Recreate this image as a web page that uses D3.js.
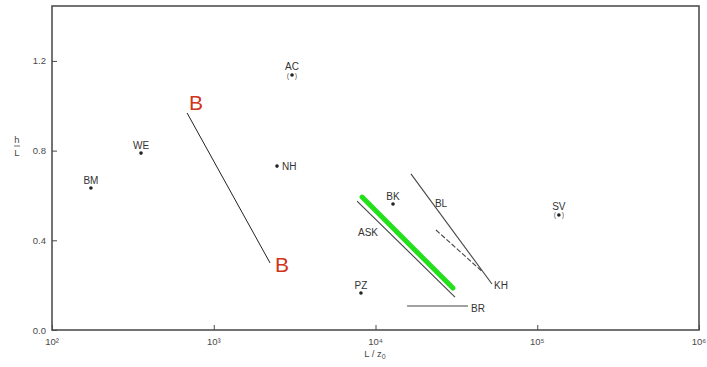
<!DOCTYPE html>
<html>
<head>
<meta charset="utf-8">
<script src="https://cdn.jsdelivr.net/npm/d3@7"></script>
<style>
  html, body { margin: 0; padding: 0; background: #fff; }
  svg { display: block; }
  text { font-family: "Liberation Sans", Arial, sans-serif; }
</style>
</head>
<body>
<svg id="chart" width="707" height="367"></svg>
<script>
// ---- data ----
const xTickValues = [1e2, 1e3, 1e4, 1e5, 1e6];
const xTickLabels = ["10²", "10³", "10⁴", "10⁵", "10⁶"];
const yTickValues = [0.0, 0.4, 0.8, 1.2];
const yTickLabels = ["0.0", "0.4", "0.8", "1.2"];

const pointNames  = ["BM", "WE", "AC", "NH", "BK", "PZ", "SV"];
const pointX      = [174, 355, 3048, 2460, 12830, 8130, 136000];
const pointY      = [0.633, 0.789, 1.137, 0.731, 0.562, 0.165, 0.513];
const pointParens = [false, false, true, false, false, false, true];

const lineNames = ["B", "ASK", "BL", "KH", "BR"];
const lineX1 = [684, 7690, 16560, 23650, 15670];
const lineY1 = [0.968, 0.575, 0.696, 0.446, 0.107];
const lineX2 = [2229, 31000, 52500, 45500, 37300];
const lineY2 = [0.299, 0.147, 0.205, 0.262, 0.107];

const highlightX = [8260, 30100];
const highlightY = [0.593, 0.187];

const xLabel = "L / z";
const xLabelSub = "0";

(function () {
// ---- scales ----
const svg = d3.select("#chart");
const mLeft = 52, mRight = 699, mTop = 6, mBottom = 330;
const x = d3.scaleLog().domain([1e2, 1e6]).range([mLeft, mRight]);
const y = d3.scaleLinear().domain([0, 1.445]).range([mBottom, mTop]);

const ink = "#333";
const axisInk = "#4a4a4a";

// frame
svg.append("rect")
  .attr("x", mLeft).attr("y", mTop)
  .attr("width", mRight - mLeft).attr("height", mBottom - mTop)
  .attr("fill", "none").attr("stroke", "#505050").attr("stroke-width", 1.6);

// x axis (ticks inward)
const xAxis = d3.axisTop(x).tickValues(xTickValues).tickSize(5).tickFormat(() => "");
const gx = svg.append("g").attr("transform", `translate(0,${mBottom})`).call(xAxis);
gx.select(".domain").remove();
gx.selectAll(".tick line").attr("stroke", axisInk);
svg.append("g").selectAll("text").data(xTickValues).join("text")
  .attr("x", d => x(d)).attr("y", 345)
  .attr("text-anchor", "middle")
  .attr("font-size", 9.5).attr("fill", axisInk)
  .text((d, i) => xTickLabels[i]);

// y axis (ticks inward)
const yAxis = d3.axisRight(y).tickValues(yTickValues).tickSize(5).tickFormat(() => "");
const gy = svg.append("g").attr("transform", `translate(${mLeft},0)`).call(yAxis);
gy.select(".domain").remove();
gy.selectAll(".tick line").attr("stroke", axisInk);
svg.append("g").selectAll("text").data(yTickValues).join("text")
  .attr("x", 46).attr("y", d => y(d) + 3.5)
  .attr("text-anchor", "end")
  .attr("font-size", 9.5).attr("fill", axisInk)
  .text((d, i) => yTickLabels[i]);

// y label h / L
const yl = svg.append("g").attr("transform", "translate(17,146)");
yl.append("text").attr("x", 0).attr("y", -3).attr("text-anchor", "middle")
  .attr("font-size", 9.5).attr("fill", axisInk).text("h");
yl.append("line").attr("x1", -3).attr("x2", 3).attr("y1", 0).attr("y2", 0)
  .attr("stroke", axisInk).attr("stroke-width", 0.8);
yl.append("text").attr("x", 0).attr("y", 9.5).attr("text-anchor", "middle")
  .attr("font-size", 9.5).attr("fill", axisInk).text("L");

// x label
const xl = svg.append("text").attr("x", 375).attr("y", 357).attr("text-anchor", "middle")
  .attr("font-size", 9.5).attr("fill", axisInk);
xl.append("tspan").text(xLabel);
xl.append("tspan").attr("font-size", 7).attr("dy", 2).text(xLabelSub);

// lines
lineNames.forEach((n, i) => {
  svg.append("line")
    .attr("x1", x(lineX1[i])).attr("y1", y(lineY1[i]))
    .attr("x2", x(lineX2[i])).attr("y2", y(lineY2[i]))
    .attr("stroke", n === "B" ? "#222" : "#444")
    .attr("stroke-width", n === "B" ? 1 : 1.1)
    .attr("stroke-dasharray", n === "KH" ? "5,2" : null);
});

// highlight green
svg.append("line")
  .attr("x1", x(highlightX[0])).attr("y1", y(highlightY[0]))
  .attr("x2", x(highlightX[1])).attr("y2", y(highlightY[1]))
  .attr("stroke", "#22e01a").attr("stroke-width", 5).attr("stroke-linecap", "round");

// labels
const lbl = (tx, ty, t, anchor) => svg.append("text")
  .attr("x", tx).attr("y", ty).attr("text-anchor", anchor || "start")
  .attr("font-size", 10).attr("fill", ink).text(t);

lineNames.forEach((n, i) => {
  const sx = x(lineX1[i]), sy = y(lineY1[i]);
  const ex = x(lineX2[i]), ey = y(lineY2[i]);
  if (n === "B") {
    svg.append("text").attr("x", sx + 9).attr("y", sy - 3).attr("text-anchor", "middle")
      .attr("font-size", 21).attr("fill", "#d0341a").text("B");
    svg.append("text").attr("x", ex + 12).attr("y", ey + 9).attr("text-anchor", "middle")
      .attr("font-size", 21).attr("fill", "#d0341a").text("B");
  } else if (n === "ASK") {
    lbl(sx + 11, sy + 35, "ASK", "middle");
  } else if (n === "BL") {
    lbl(sx + 24, sy + 33, "BL");
  } else if (n === "KH") {
    lbl(x(lineX2[2]) + 2, y(lineY2[2]) + 5, "KH");
  } else if (n === "BR") {
    lbl(ex + 3, ey + 6, "BR");
  }
});

// points
pointNames.forEach((n, i) => {
  const px = x(pointX[i]), py = y(pointY[i]);
  svg.append("circle").attr("cx", px).attr("cy", py).attr("r", 1.8).attr("fill", "#222");
  if (pointParens[i]) {
    svg.append("text").attr("x", px - 4).attr("y", py + 2.5).attr("text-anchor", "middle")
      .attr("font-size", 7).attr("fill", "#555").text("(");
    svg.append("text").attr("x", px + 4).attr("y", py + 2.5).attr("text-anchor", "middle")
      .attr("font-size", 7).attr("fill", "#555").text(")");
  }
  if (n === "NH") {
    lbl(px + 5, py + 3.5, n);
  } else {
    lbl(px, py - (pointParens[i] ? 5 : 4), n, "middle");
  }
});
})();
</script>
</body>
</html>
